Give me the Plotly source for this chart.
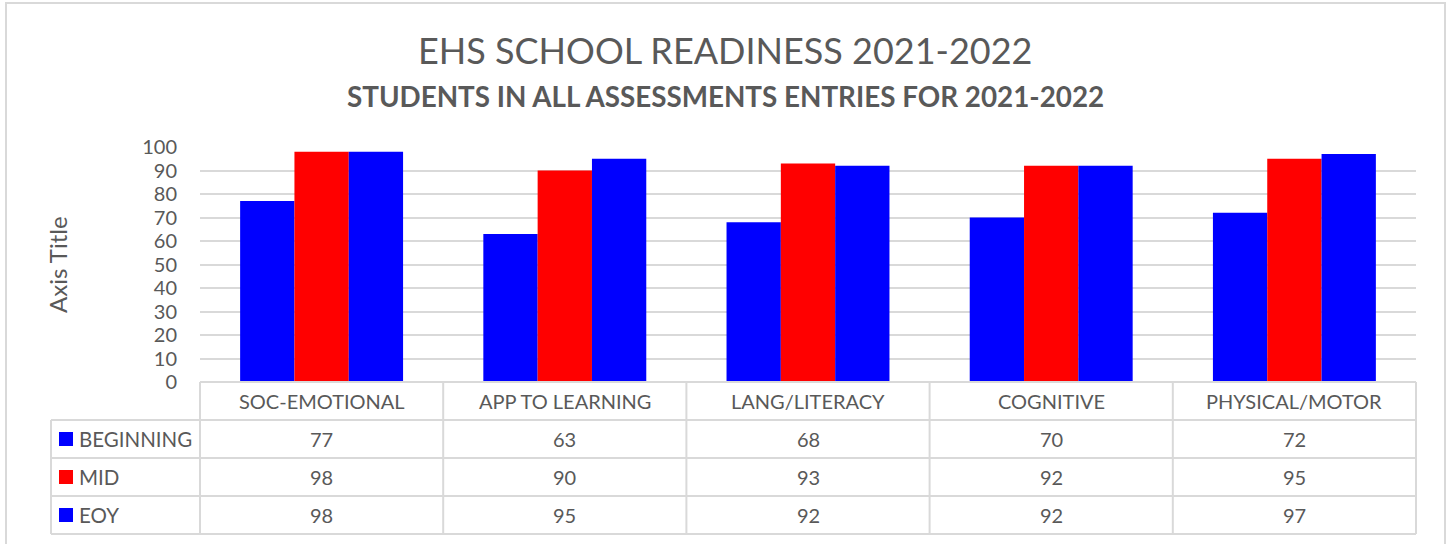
import plotly.graph_objects as go

categories = ["SOC-EMOTIONAL", "APP TO LEARNING", "LANG/LITERACY", "COGNITIVE", "PHYSICAL/MOTOR"]
series_names = ["BEGINNING", "MID", "EOY"]
beginning = [77, 63, 68, 70, 72]
mid = [98, 90, 93, 92, 95]
eoy = [98, 95, 92, 92, 97]
series_values = [beginning, mid, eoy]
series_colors = ["#0000FF", "#FF0000", "#0000FF"]
y_ticks = [0, 10, 20, 30, 40, 50, 60, 70, 80, 90, 100]

title = "EHS SCHOOL READINESS 2021-2022"
subtitle = "STUDENTS IN ALL ASSESSMENTS ENTRIES FOR 2021-2022"
axis_title = "Axis Title"

FONT = "Lato"
TXT = "#595959"
GRID = "#d9d9d9"

W_FIG, H_FIG = 1449, 544
L, R, T, B = 200, 1416, 147, 382
PW, PH = R - L, B - T


def px(X):
    return (X - L) / PW


def py(Y):
    return (B - Y) / PH


fig = go.Figure()
for name, vals, col in zip(series_names, series_values, series_colors):
    fig.add_trace(go.Bar(name=name, x=categories, y=vals, marker=dict(color=col, line=dict(width=0))))

shapes = []
annotations = []

# outer chart border
shapes.append(dict(type="rect", xref="paper", yref="paper", x0=px(6), x1=px(1445), y0=py(3), y1=py(600),
                   line=dict(color=GRID, width=2), fillcolor="rgba(0,0,0,0)", layer="below"))

# data table lines
row_tops = [382, 420, 458, 496, 534]
n = len(categories)
for i in range(n + 1):
    xp = i / n
    shapes.append(dict(type="line", xref="paper", yref="paper", x0=xp, x1=xp, y0=py(row_tops[0]), y1=py(row_tops[-1]),
                       line=dict(color=GRID, width=2)))
shapes.append(dict(type="line", xref="paper", yref="paper", x0=px(51), x1=px(51), y0=py(row_tops[1]), y1=py(row_tops[-1]),
                   line=dict(color=GRID, width=2)))
shapes.append(dict(type="line", xref="paper", yref="paper", x0=0, x1=1, y0=py(row_tops[0]), y1=py(row_tops[0]),
                   line=dict(color=GRID, width=2)))
for yy in row_tops[1:]:
    shapes.append(dict(type="line", xref="paper", yref="paper", x0=px(51), x1=1, y0=py(yy), y1=py(yy),
                       line=dict(color=GRID, width=2)))

TS = 20

# header labels
hy = (row_tops[0] + row_tops[1]) / 2
for c in categories:
    annotations.append(dict(x=c, xref="x", y=py(hy), yref="paper", text=c, showarrow=False,
                            font=dict(family=FONT, size=TS, color=TXT), xanchor="center", yanchor="middle"))

# rows
for r, (name, vals, col) in enumerate(zip(series_names, series_values, series_colors)):
    cy = (row_tops[r + 1] + row_tops[r + 2]) / 2
    shapes.append(dict(type="rect", xref="paper", yref="paper", x0=px(59), x1=px(73), y0=py(cy - 7), y1=py(cy + 7),
                       line=dict(width=0), fillcolor=col))
    annotations.append(dict(x=px(77), xref="paper", y=py(cy), yref="paper", text=name, showarrow=False,
                            font=dict(family=FONT, size=20.5, color=TXT), xanchor="left", yanchor="middle"))
    for c, v in zip(categories, vals):
        annotations.append(dict(x=c, xref="x", y=py(cy), yref="paper", text=str(v), showarrow=False,
                                font=dict(family=FONT, size=TS, color=TXT), xanchor="center", yanchor="middle"))

# titles
annotations.append(dict(x=px(725), xref="paper", y=py(50), yref="paper", text=title, showarrow=False,
                        font=dict(family=FONT, size=36, color=TXT), xanchor="center", yanchor="middle"))
annotations.append(dict(x=px(725), xref="paper", y=py(97), yref="paper", text="<b>" + subtitle + "</b>", showarrow=False,
                        font=dict(family=FONT, size=27.8, color=TXT), xanchor="center", yanchor="middle"))
annotations.append(dict(x=px(57), xref="paper", y=py(265), yref="paper", text=axis_title, showarrow=False, textangle=-90,
                        font=dict(family=FONT, size=24, color=TXT), xanchor="center", yanchor="middle"))

fig.update_layout(
    width=W_FIG, height=H_FIG,
    margin=dict(l=L, r=W_FIG - R, t=T, b=H_FIG - B, pad=0),
    paper_bgcolor="white", plot_bgcolor="white",
    barmode="group", bargap=0.33, bargroupgap=0,
    showlegend=False,
    shapes=shapes, annotations=annotations,
    font=dict(family=FONT, color=TXT),
    xaxis=dict(showticklabels=False, showgrid=False, zeroline=False, showline=False, ticks=""),
    yaxis=dict(range=[0, 100], tickvals=y_ticks, showgrid=True, gridcolor=GRID, gridwidth=2,
               zeroline=False, showline=False, ticks="", ticklabelstandoff=22,
               tickfont=dict(family=FONT, size=20, color=TXT)),
)

fig.write_html("out.html", config={"displayModeBar": False},
               post_script="document.body.style.margin='0';document.body.style.overflow='hidden';")
